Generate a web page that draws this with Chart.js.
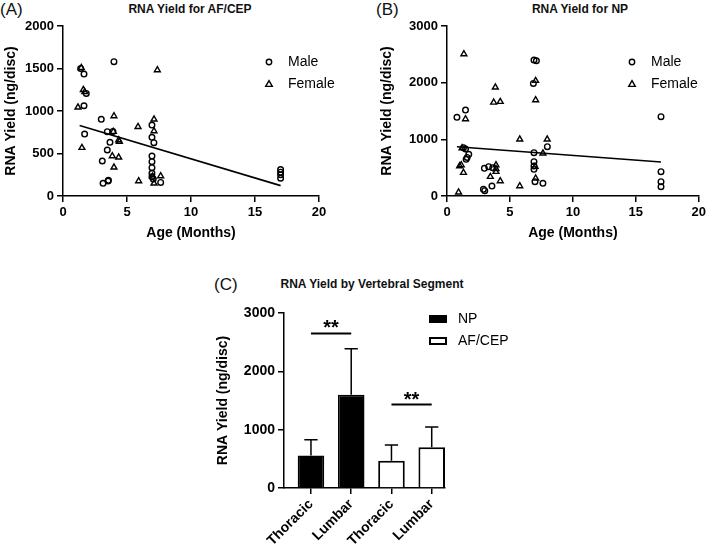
<!DOCTYPE html>
<html>
<head>
<meta charset="utf-8">
<script src="https://cdn.jsdelivr.net/npm/chart.js@4.4.1/dist/chart.umd.min.js"></script>
<style>
body { margin: 0; background: #fff; width: 709px; height: 546px; position: relative; overflow: hidden; font-family: "Liberation Sans", Arial, sans-serif; color: #111; }
canvas { position: absolute; }
.tag { position: absolute; font-size: 17px; line-height: 17px; }
.ttl { position: absolute; font-weight: bold; font-size: 12px; transform: translate(-50%, -50%); white-space: nowrap; }
</style>
</head>
<body>
<div class="tag" style="left:0;top:1px">(A)</div>
<div class="ttl" style="left:190px;top:9px">RNA Yield for AF/CEP</div>
<div class="tag" style="left:376px;top:1px">(B)</div>
<div class="ttl" style="left:580px;top:9px">RNA Yield for NP</div>
<div class="tag" style="left:214px;top:276px">(C)</div>
<div class="ttl" style="left:372px;top:284px">RNA Yield by Vertebral Segment</div>

<canvas id="chartA" width="350" height="250" style="left:0;top:0"></canvas>
<canvas id="chartB" width="333" height="250" style="left:376px;top:0"></canvas>
<canvas id="chartC" width="332" height="276" style="left:208px;top:270px"></canvas>

<script>
// Panel A - AF/CEP yield vs age
const afMaleAge = [1.38, 1.64, 1.82, 1.64, 1.69, 3.98, 2.99, 3.46, 3.9, 3.67, 3.46, 3.07, 3.13, 3.52, 3.55,
  6.95, 6.95, 7.1, 6.95, 6.95, 6.95, 6.95, 6.95, 7.05, 7.63, 17, 17, 17, 17];
const afMaleYield = [1501, 1435, 1207, 1062, 729, 1580, 902, 757, 760, 631, 541, 412, 149, 176, 185,
  835, 690, 627, 470, 404, 333, 267, 227, 200, 160, 312, 280, 250, 210];
const afFemaleAge = [1.43, 1.59, 1.7, 1.17, 1.48, 7.37, 3.98, 3.93, 4.35, 4.4, 3.85, 4.35, 3.98,
  5.86, 5.91, 7.11, 7.11, 7.11, 7.63, 7.0];
const afFemaleYield = [1509, 1250, 1225, 1043, 568, 1482, 941, 757, 659, 640, 470, 455, 337,
  815, 176, 902, 764, 149, 235, 230];
const afFitAge = [1.3, 17];
const afFitYield = [830, 122];

// Panel B - NP yield vs age
const npMaleAge = [0.79, 1.47, 1.31, 1.47, 1.73, 1.52, 1.6, 2.97, 3.31, 3.63, 2.89, 3.0, 3.57,
  6.91, 7.1, 6.86, 6.91, 6.91, 6.91, 6.91, 6.99, 7.62, 7.97, 17, 17, 17, 17];
const npMaleYield = [1388, 1517, 853, 829, 735, 647, 680, 488, 517, 500, 118, 94, 176,
  2399, 2387, 1987, 764, 606, 529, 470, 253, 223, 870, 1399, 429, 252, 164];
const npFemaleAge = [1.34, 1.47, 1.0, 1.13, 1.31, 1.2, 0.92, 3.84, 3.71, 4.23, 3.89, 3.89, 3.89,
  3.44, 4.23, 5.78, 5.78, 7.04, 7.04, 7.0, 7.04, 7.62, 7.96];
const npFemaleYield = [2505, 1358, 529, 547, 412, 845, 65, 1917, 1652, 1664, 547, 429, 480,
  341, 265, 1000, 176, 2035, 1693, 517, 312, 753, 1000];
const npFitAge = [0.79, 17];
const npFitYield = [870, 600];

// Panel C - yield by segment (mean + SD)
const segments = ["Thoracic", "Lumbar", "Thoracic", "Lumbar"];
const npMean = [559, 1600];
const npSd = [269, 789];
const afMean = [468, 697];
const afSd = [269, 349];
const sigPairs = [[0, 1, 2650], [2, 3, 1430]];

Chart.defaults.font.family = '"Liberation Sans", Arial, sans-serif';
Chart.defaults.color = "#000";

const ink = "#000";
const barShift = 0.67;

const toPoints = (xs, ys) => xs.map((x, i) => ({ x: x, y: ys[i] }));
const plainNum = v => String(v);

// legend drawn inside the plot area
const insideLegend = {
  id: "insideLegend",
  afterDraw(chart, args, opts) {
    if (!opts.items) return;
    const ctx = chart.ctx;
    ctx.save();
    ctx.strokeStyle = "#000";
    ctx.fillStyle = ink;
    ctx.font = "14px 'Liberation Sans', Arial, sans-serif";
    ctx.textBaseline = "middle";
    opts.items.forEach((item, i) => {
      const x = opts.x, y = opts.y + i * opts.gap;
      ctx.lineWidth = 1.4;
      ctx.beginPath();
      if (item.mark === "circle") {
        ctx.arc(x, y, 2.7, 0, Math.PI * 2);
        ctx.stroke();
      } else if (item.mark === "triangle") {
        ctx.moveTo(x, y - 3.3);
        ctx.lineTo(x + 3.3, y + 2.4);
        ctx.lineTo(x - 3.3, y + 2.4);
        ctx.closePath();
        ctx.stroke();
      } else {
        ctx.lineWidth = 2;
        ctx.rect(x - 8, y - 3, 16, 6);
        if (item.mark === "filled") { ctx.fillStyle = "#000"; ctx.fill(); }
        ctx.stroke();
      }
      ctx.fillStyle = ink;
      ctx.fillText(item.label, x + opts.textGap, y);
    });
    ctx.restore();
  }
};

const axisLook = {
  border: { color: "#000", width: 1.5 },
  grid: { drawOnChartArea: false, color: "#000", lineWidth: 1.5, tickLength: 6 }
};

function scatterChart(id, maleX, maleY, femX, femY, fitX, fitY, yMax, yStep, yWidth, rightPad, legendX) {
  return new Chart(document.getElementById(id), {
    type: "scatter",
    data: {
      datasets: [
        { label: "Male", data: toPoints(maleX, maleY), pointStyle: "circle", pointRadius: 2.8,
          pointBorderWidth: 1.4, borderColor: "#000", backgroundColor: "rgba(255,255,255,0)" },
        { label: "Female", data: toPoints(femX, femY), pointStyle: "triangle", pointRadius: 3.4,
          pointBorderWidth: 1.4, borderColor: "#000", backgroundColor: "rgba(255,255,255,0)" },
        { label: "fit", data: toPoints(fitX, fitY), showLine: true, pointRadius: 0,
          borderColor: "#000", borderWidth: 1.6 }
      ]
    },
    options: {
      responsive: false,
      animation: false,
      layout: { padding: { top: 26, right: rightPad, left: 0, bottom: 0 } },
      plugins: {
        legend: { display: false },
        tooltip: { enabled: false },
        insideLegend: {
          x: legendX, y: 62, gap: 22, textGap: 19,
          items: [{ label: "Male", mark: "circle" }, { label: "Female", mark: "triangle" }]
        }
      },
      scales: {
        x: {
          type: "linear", min: 0, max: 20,
          afterFit: s => { s.height = 54; },
          ticks: { stepSize: 5, padding: 3, color: ink, font: { weight: "bold", size: 13 }, callback: plainNum },
          title: { display: true, text: "Age (Months)", color: ink, padding: { bottom: 8 },
            font: { weight: "bold", size: 14 } },
          border: axisLook.border, grid: axisLook.grid
        },
        y: {
          min: 0, max: yMax,
          afterFit: s => { s.width = yWidth; },
          ticks: { stepSize: yStep, padding: 3, color: ink, font: { weight: "bold", size: 13 }, callback: plainNum },
          title: { display: true, text: "RNA Yield (ng/disc)", color: ink, padding: { top: 3 },
            font: { weight: "bold", size: 14 } },
          border: axisLook.border, grid: axisLook.grid
        }
      }
    },
    plugins: [insideLegend]
  });
}

scatterChart("chartA", afMaleAge, afMaleYield, afFemaleAge, afFemaleYield, afFitAge, afFitYield,
  2000, 500, 63, 31, 269);
scatterChart("chartB", npMaleAge, npMaleYield, npFemaleAge, npFemaleYield, npFitAge, npFitYield,
  3000, 1000, 71, 8, 256);

// error bars and significance markers for panel C
const barExtras = {
  id: "barExtras",
  afterDatasetsDraw(chart) {
    const ctx = chart.ctx;
    const xs = chart.scales.x, ys = chart.scales.y;
    ctx.save();
    ctx.strokeStyle = "#000";
    ctx.lineWidth = 1.5;
    chart.data.datasets.forEach((ds, d) => {
      chart.getDatasetMeta(d).data.forEach((bar, i) => {
        const top = ys.getPixelForValue(ds.data[i].y + ds.sd[i]);
        const half = bar.width / 4;
        ctx.beginPath();
        ctx.moveTo(bar.x, bar.y);
        ctx.lineTo(bar.x, top);
        ctx.moveTo(bar.x - half, top);
        ctx.lineTo(bar.x + half, top);
        ctx.stroke();
      });
    });
    ctx.lineWidth = 2;
    ctx.fillStyle = ink;
    ctx.font = "bold 20px 'Liberation Sans', Arial, sans-serif";
    ctx.textAlign = "center";
    ctx.textBaseline = "alphabetic";
    sigPairs.forEach(([a, b, v]) => {
      const x1 = xs.getPixelForValue(a + barShift), x2 = xs.getPixelForValue(b + barShift);
      const y = ys.getPixelForValue(v);
      ctx.beginPath();
      ctx.moveTo(x1, y);
      ctx.lineTo(x2, y);
      ctx.stroke();
      ctx.fillText("**", (x1 + x2) / 2, y + 1);
    });
    ctx.restore();
  }
};

new Chart(document.getElementById("chartC"), {
  type: "bar",
  data: {
    datasets: [
      { label: "NP", data: npMean.map((v, i) => ({ x: i + barShift, y: v })), sd: npSd,
        backgroundColor: "#000", borderColor: "#000", borderWidth: 1.5 },
      { label: "AF/CEP", data: afMean.map((v, i) => ({ x: i + 2 + barShift, y: v })), sd: afSd,
        backgroundColor: "#fff", borderColor: "#000", borderWidth: 2 }
    ]
  },
  options: {
    responsive: false,
    animation: false,
    grouped: false,
    categoryPercentage: 1,
    barPercentage: 0.66,
    layout: { padding: { top: 43, right: 95, left: 0, bottom: 0 } },
    plugins: {
      legend: { display: false },
      tooltip: { enabled: false },
      insideLegend: {
        x: 230, y: 49, gap: 22, textGap: 20,
        items: [{ label: "NP", mark: "filled" }, { label: "AF/CEP", mark: "open" }]
      }
    },
    scales: {
      x: {
        type: "linear", min: 0, max: 4, offset: false,
        afterFit: s => { s.height = 58; },
        afterBuildTicks: s => { s.ticks = segments.map((_, i) => ({ value: i + barShift })); },
        ticks: { autoSkip: false, maxRotation: 45, minRotation: 45, padding: 2, color: ink,
          font: { weight: "bold", size: 14 }, callback: (v, i) => segments[i] },
        border: axisLook.border,
        grid: { drawOnChartArea: false, offset: false, color: "#000", lineWidth: 1.5, tickLength: 6 }
      },
      y: {
        min: 0, max: 3000,
        afterFit: s => { s.width = 76; },
        ticks: { stepSize: 1000, padding: 3, color: ink, font: { weight: "bold", size: 14 }, callback: plainNum },
        title: { display: true, text: "RNA Yield (ng/disc)", color: ink, padding: { top: 7 },
          font: { weight: "bold", size: 14 } },
        border: axisLook.border, grid: axisLook.grid
      }
    }
  },
  plugins: [insideLegend, barExtras]
});
</script>
</body>
</html>
